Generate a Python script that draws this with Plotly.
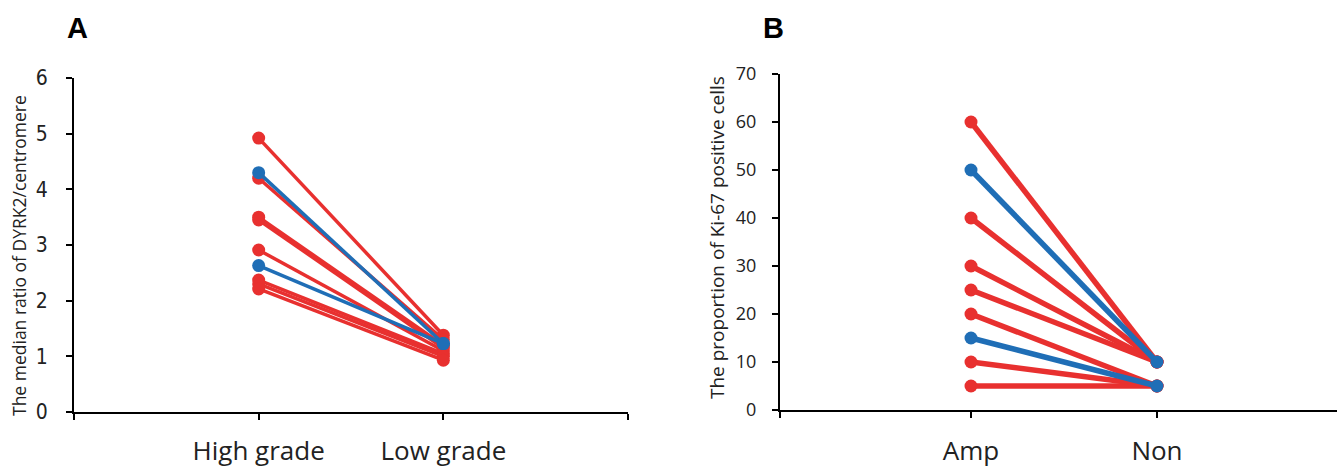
import plotly.graph_objects as go

# ---- Panel A data ----
cats_a = ["High grade", "Low grade"]
a_high = [4.92, 4.20, 3.50, 3.45, 2.91, 2.37, 2.30, 2.21, 4.30, 2.63]
a_low = [1.38, 1.30, 1.20, 1.15, 1.10, 1.05, 1.00, 0.93, 1.23, 1.23]
a_group = ["r", "r", "r", "r", "r", "r", "r", "r", "b", "b"]

# ---- Panel B data ----
cats_b = ["Amp", "Non"]
b_amp = [60, 40, 30, 25, 20, 10, 5, 50, 15]
b_non = [10, 10, 10, 10, 5, 5, 5, 10, 5]
b_group = ["r", "r", "r", "r", "r", "r", "r", "b", "b"]

yticks_a = [0, 1, 2, 3, 4, 5, 6]
yticks_b = [0, 10, 20, 30, 40, 50, 60, 70]

RED = "#E8302F"
BLUE = "#1F6EB6"
colors = {"r": RED, "b": BLUE}

fig = go.Figure()

for hi, lo, g in zip(a_high, a_low, a_group):
    fig.add_trace(go.Scatter(
        x=[1, 2], y=[hi, lo], mode="lines+markers",
        line=dict(color=colors[g], width=3.5),
        marker=dict(color=colors[g], size=13),
        xaxis="x", yaxis="y", showlegend=False, hoverinfo="skip"))

for am, no, g in zip(b_amp, b_non, b_group):
    fig.add_trace(go.Scatter(
        x=[1, 2], y=[am, no], mode="lines+markers",
        line=dict(color=colors[g], width=5.5),
        marker=dict(color=colors[g], size=13),
        xaxis="x2", yaxis="y2", showlegend=False, hoverinfo="skip"))

W, H = 1337, 472
xa0, xa1 = 74 / W, 628 / W
ya0, ya1 = 1 - 412 / H, 1 - 78 / H
xb0, xb1 = 780 / W, 1.0
yb0, yb1 = 1 - 410 / H, 1 - 74 / H

narrow = "Liberation Sans Narrow, DejaVu Sans Condensed, Arial Narrow, sans-serif"
body = "Open Sans, sans-serif"

axis_common = dict(showline=True, linecolor="black", linewidth=2,
                   ticks="outside", tickcolor="black", tickwidth=1.5,
                   ticklen=6, showgrid=False, zeroline=False, automargin=False)

fig.update_layout(
    width=W, height=H,
    margin=dict(l=0, r=0, t=0, b=0, autoexpand=False),
    paper_bgcolor="white", plot_bgcolor="white",
    xaxis=dict(domain=[xa0, xa1], range=[0, 3], anchor="y",
               tickvals=[0, 1, 2, 3], ticktext=["", cats_a[0], cats_a[1], ""],
               tickfont=dict(family=body, size=26, color="#222"),
               ticklabelstandoff=9, **axis_common),
    yaxis=dict(domain=[ya0, ya1], range=[0, 6], anchor="x",
               tickvals=yticks_a,
               tickfont=dict(family=narrow, size=21, color="#222"),
               ticklabelstandoff=14, **axis_common),
    xaxis2=dict(domain=[xb0, xb1], range=[-0.027, 2.968], anchor="y2",
                tickvals=[-0.027, 1, 2], ticktext=["", cats_b[0], cats_b[1]],
                tickfont=dict(family=body, size=26, color="#222"),
                ticklabelstandoff=11, **axis_common),
    yaxis2=dict(domain=[yb0, yb1], range=[0, 70], anchor="x2",
                tickvals=yticks_b,
                tickfont=dict(family=body, size=18, color="#222"),
                ticklabelstandoff=12, **axis_common),
)

letter_font = dict(family="Liberation Sans, Arial, sans-serif", size=29, color="black")
fig.add_annotation(text="<b>A</b>", x=77 / W, y=1 - 28 / H, xref="paper", yref="paper",
                   xanchor="center", yanchor="middle", showarrow=False, font=letter_font)
fig.add_annotation(text="<b>B</b>", x=773 / W, y=1 - 28 / H, xref="paper", yref="paper",
                   xanchor="center", yanchor="middle", showarrow=False, font=letter_font)

fig.add_annotation(text="The median ratio of DYRK2/centromere", x=19 / W, y=1 - 256 / H,
                   xref="paper", yref="paper", textangle=-90, showarrow=False,
                   xanchor="center", yanchor="middle",
                   font=dict(family=body, size=17.5, color="#222"))
fig.add_annotation(text="The proportion of Ki-67 positive cells", x=717 / W, y=1 - 238 / H,
                   xref="paper", yref="paper", textangle=-90, showarrow=False,
                   xanchor="center", yanchor="middle",
                   font=dict(family=body, size=19, color="#222"))

fig.write_html("out.html")
